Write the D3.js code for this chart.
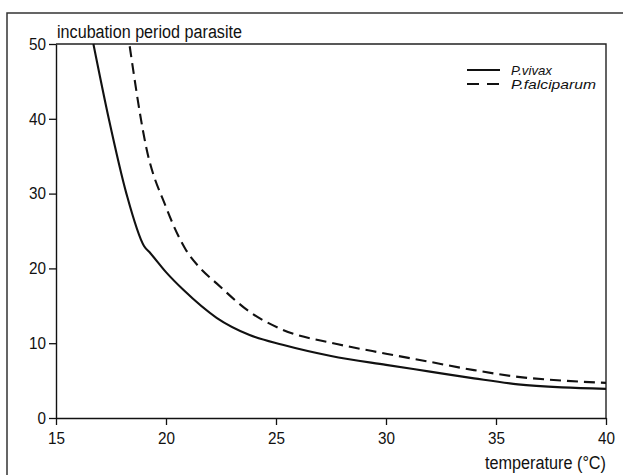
<!DOCTYPE html>
<html>
<head>
<meta charset="utf-8">
<script src="https://cdn.jsdelivr.net/npm/d3@7"></script>
<style>
  body { margin: 0; background: #fff; }
  svg { display: block; }
  text { font-family: "Liberation Sans", Arial, sans-serif; fill: #111; }
</style>
</head>
<body>
<svg width="623" height="475"></svg>
<script>
// curves: temperature (°C) -> incubation period (days)
const vivaxTemp = [16.7, 17.4, 18.2, 19.0, 19.3, 20.0, 20.8, 22.3, 23.8, 25.3, 27.5, 30, 32, 34, 36, 38, 40];
const vivaxDays = [50, 40, 30, 23, 22, 19.5, 17.1, 13.4, 11.1, 9.8, 8.3, 7.1, 6.2, 5.3, 4.5, 4.1, 3.9];
const falcTemp = [18.35, 19.1, 20.0, 20.9, 21.5, 22.3, 23.8, 25.3, 27.6, 30, 32, 34, 36, 38, 40];
const falcDays = [49.7, 36.2, 28.2, 22.5, 20.2, 18.0, 14.2, 11.8, 10.0, 8.6, 7.5, 6.4, 5.5, 5.0, 4.7];
const xTicks = [15, 20, 25, 30, 35, 40];
const yTicks = [0, 10, 20, 30, 40, 50];
const seriesNames = ["P.vivax", "P.falciparum"];
const legendWidths = [41, 85];

const svg = d3.select("svg");

const plotLeft = 56, plotRight = 606, plotTop = 44, plotBottom = 418;

const x = d3.scaleLinear().domain([15, 40]).range([plotLeft, plotRight]);
const y = d3.scaleLinear().domain([0, 50]).range([plotBottom, plotTop]);

// outer frame (scanned page border)
svg.append("path")
    .attr("d", "M7,475V13H623")
    .attr("fill", "none")
    .attr("stroke", "#333")
    .attr("stroke-width", 1.5);

// plot frame top + right
svg.append("path")
    .attr("d", `M${plotLeft},${plotTop}H${plotRight}V${plotBottom}`)
    .attr("fill", "none")
    .attr("stroke", "#222")
    .attr("stroke-width", 1.4);

const xAxis = svg.append("g")
    .attr("transform", `translate(0,${plotBottom})`)
    .call(d3.axisBottom(x).tickValues(xTicks).tickSize(7).tickSizeOuter(0).tickPadding(7));

const yAxis = svg.append("g")
    .attr("transform", `translate(${plotLeft},0)`)
    .call(d3.axisLeft(y).tickValues(yTicks).tickSize(7).tickSizeOuter(0).tickPadding(3));

for (const ax of [xAxis, yAxis]) {
    ax.attr("font-family", null).attr("font-size", null);
    ax.select(".domain").attr("stroke", "#111").attr("stroke-width", 1.4);
    ax.selectAll(".tick line").attr("stroke", "#111").attr("stroke-width", 1.3);
    ax.selectAll(".tick text")
        .attr("font-size", 16.5)
        .attr("fill", "#111");
}
// condensed look of the original lettering
xAxis.selectAll(".tick text").attr("textLength", 17).attr("lengthAdjust", "spacingAndGlyphs");
yAxis.selectAll(".tick text").each(function (d) {
    d3.select(this).attr("textLength", String(d).length * 8.5).attr("lengthAdjust", "spacingAndGlyphs");
});

svg.append("text")
    .attr("x", plotLeft + 1)
    .attr("y", 38)
    .attr("font-size", 18)
    .attr("textLength", 185)
    .attr("lengthAdjust", "spacingAndGlyphs")
    .text("incubation period parasite");

svg.append("text")
    .attr("x", plotRight - 121)
    .attr("y", 469)
    .attr("font-size", 18)
    .attr("textLength", 121)
    .attr("lengthAdjust", "spacingAndGlyphs")
    .text("temperature (°C)");

const line = d3.line()
    .x(d => x(d[0]))
    .y(d => y(d[1]))
    .curve(d3.curveMonotoneX);

const vivax = vivaxTemp.map((t, i) => [t, vivaxDays[i]]);
const falc = falcTemp.map((t, i) => [t, falcDays[i]]);

svg.append("path")
    .datum(vivax)
    .attr("d", line)
    .attr("fill", "none")
    .attr("stroke", "#111")
    .attr("stroke-width", 2.1);

svg.append("path")
    .datum(falc)
    .attr("d", line)
    .attr("fill", "none")
    .attr("stroke", "#111")
    .attr("stroke-width", 2.1)
    .attr("stroke-dasharray", "11,6");

// legend
const legend = svg.append("g").attr("transform", "translate(467,70)");
seriesNames.forEach((name, i) => {
    const g = legend.append("g").attr("transform", `translate(0,${i * 14})`);
    g.append("line")
        .attr("x1", 0).attr("x2", 33)
        .attr("stroke", "#111")
        .attr("stroke-width", 2)
        .attr("stroke-dasharray", i === 1 ? "12,8" : null);
    g.append("text")
        .attr("x", 44)
        .attr("y", 5)
        .attr("font-size", 13.5)
        .attr("font-style", "italic")
        .attr("textLength", legendWidths[i])
        .attr("lengthAdjust", "spacingAndGlyphs")
        .text(name);
});
</script>
</body>
</html>
